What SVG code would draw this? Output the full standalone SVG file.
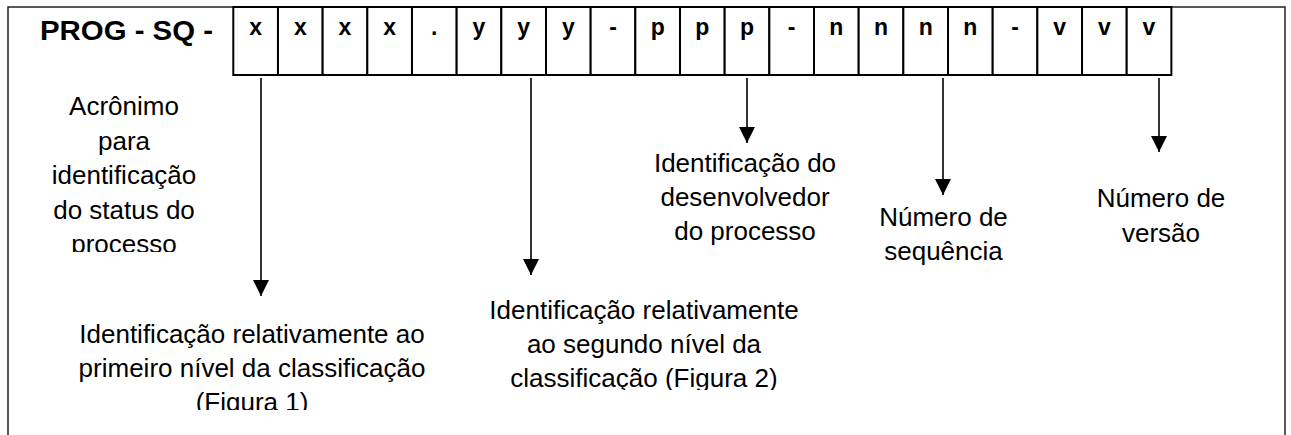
<svg xmlns="http://www.w3.org/2000/svg" width="1291" height="435" viewBox="0 0 1291 435">
<style>
  .frame { fill: none; stroke: #222; stroke-width: 1.5; }
  .cell { fill: #fff; stroke: #000; stroke-width: 2; }
  .ct { font-family: "Liberation Sans", Arial, sans-serif; font-weight: bold; font-size: 23px; text-anchor: middle; fill: #000; }
  .lbl { font-family: "Liberation Sans", Arial, sans-serif; font-size: 26px; text-anchor: middle; fill: #000; }
  .title { font-family: "Liberation Sans", Arial, sans-serif; font-weight: bold; font-size: 27px; fill: #000; }
  .conn { stroke: #000; stroke-width: 1.6; fill: none; }
</style>
<defs>
  <marker id="ah" markerUnits="userSpaceOnUse" markerWidth="16" markerHeight="16" refX="16" refY="8" orient="auto" viewBox="0 0 16 16">
    <path d="M0,0 L16,8 L0,16 z" fill="#000"/>
  </marker>
  <clipPath id="clipA"><rect x="0" y="0" width="1291" height="252"/></clipPath>
  <clipPath id="clipB"><rect x="0" y="0" width="1291" height="410"/></clipPath>
  <clipPath id="clipC"><rect x="0" y="0" width="1291" height="390"/></clipPath>
</defs>
<rect width="1291" height="435" fill="#fff"/>
<g id="frame">
  <path class="frame" d="M8,435 L8,7 L1285,7 L1285,435"/>
</g>
<g id="title">
  <text class="title" x="40" y="40" textLength="173" lengthAdjust="spacingAndGlyphs">PROG - SQ -</text>
</g>
<g id="code-cells">
  <rect class="cell" x="233.3" y="7" width="44.67" height="68"/>
  <rect class="cell" x="277.97" y="7" width="44.67" height="68"/>
  <rect class="cell" x="322.64" y="7" width="44.67" height="68"/>
  <rect class="cell" x="367.31" y="7" width="44.67" height="68"/>
  <rect class="cell" x="411.98" y="7" width="44.67" height="68"/>
  <rect class="cell" x="456.65" y="7" width="44.67" height="68"/>
  <rect class="cell" x="501.32" y="7" width="44.67" height="68"/>
  <rect class="cell" x="545.99" y="7" width="44.67" height="68"/>
  <rect class="cell" x="590.66" y="7" width="44.67" height="68"/>
  <rect class="cell" x="635.33" y="7" width="44.67" height="68"/>
  <rect class="cell" x="680.0" y="7" width="44.67" height="68"/>
  <rect class="cell" x="724.67" y="7" width="44.67" height="68"/>
  <rect class="cell" x="769.34" y="7" width="44.67" height="68"/>
  <rect class="cell" x="814.01" y="7" width="44.67" height="68"/>
  <rect class="cell" x="858.68" y="7" width="44.67" height="68"/>
  <rect class="cell" x="903.35" y="7" width="44.67" height="68"/>
  <rect class="cell" x="948.02" y="7" width="44.67" height="68"/>
  <rect class="cell" x="992.69" y="7" width="44.67" height="68"/>
  <rect class="cell" x="1037.36" y="7" width="44.67" height="68"/>
  <rect class="cell" x="1082.03" y="7" width="44.67" height="68"/>
  <rect class="cell" x="1126.7" y="7" width="44.67" height="68"/>
  <text class="ct" x="255.6" y="35">x</text>
  <text class="ct" x="300.3" y="35">x</text>
  <text class="ct" x="345.0" y="35">x</text>
  <text class="ct" x="389.6" y="35">x</text>
  <text class="ct" x="434.3" y="35">.</text>
  <text class="ct" x="479.0" y="35">y</text>
  <text class="ct" x="523.7" y="35">y</text>
  <text class="ct" x="568.3" y="35">y</text>
  <text class="ct" x="613.0" y="35">-</text>
  <text class="ct" x="657.7" y="35">p</text>
  <text class="ct" x="702.3" y="35">p</text>
  <text class="ct" x="747.0" y="35">p</text>
  <text class="ct" x="791.7" y="35">-</text>
  <text class="ct" x="836.3" y="35">n</text>
  <text class="ct" x="881.0" y="35">n</text>
  <text class="ct" x="925.7" y="35">n</text>
  <text class="ct" x="970.4" y="35">n</text>
  <text class="ct" x="1015.0" y="35">-</text>
  <text class="ct" x="1059.7" y="35">v</text>
  <text class="ct" x="1104.4" y="35">v</text>
  <text class="ct" x="1149.0" y="35">v</text>
</g>
<g id="connectors">
  <line class="conn" x1="261" y1="78" x2="261" y2="296" marker-end="url(#ah)"/>
  <line class="conn" x1="531" y1="78" x2="531" y2="275" marker-end="url(#ah)"/>
  <line class="conn" x1="747" y1="78" x2="747" y2="143" marker-end="url(#ah)"/>
  <line class="conn" x1="943" y1="78" x2="943" y2="195" marker-end="url(#ah)"/>
  <line class="conn" x1="1159" y1="78" x2="1159" y2="152" marker-end="url(#ah)"/>
</g>
<g id="label-acronimo" clip-path="url(#clipA)">
  <text class="lbl" x="124" y="115">Acrônimo</text>
  <text class="lbl" x="124" y="149.5">para</text>
  <text class="lbl" x="124" y="184">identificação</text>
  <text class="lbl" x="124" y="218.5">do status do</text>
  <text class="lbl" x="124" y="253">processo</text>
</g>
<g id="label-nivel1" clip-path="url(#clipB)">
  <text class="lbl" x="252" y="343">Identificação relativamente ao</text>
  <text class="lbl" x="252" y="377">primeiro nível da classificação</text>
  <text class="lbl" x="252" y="411">(Figura 1)</text>
</g>
<g id="label-nivel2" clip-path="url(#clipC)">
  <text class="lbl" x="644" y="319">Identificação relativamente</text>
  <text class="lbl" x="644" y="353">ao segundo nível da</text>
  <text class="lbl" x="644" y="387">classificação (Figura 2)</text>
</g>
<g id="label-desenvolvedor">
  <text class="lbl" x="745" y="172">Identificação do</text>
  <text class="lbl" x="745" y="206">desenvolvedor</text>
  <text class="lbl" x="745" y="240">do processo</text>
</g>
<g id="label-sequencia">
  <text class="lbl" x="943.5" y="226">Número de</text>
  <text class="lbl" x="943.5" y="260">sequência</text>
</g>
<g id="label-versao">
  <text class="lbl" x="1161" y="207">Número de</text>
  <text class="lbl" x="1161" y="242">versão</text>
</g>
</svg>
